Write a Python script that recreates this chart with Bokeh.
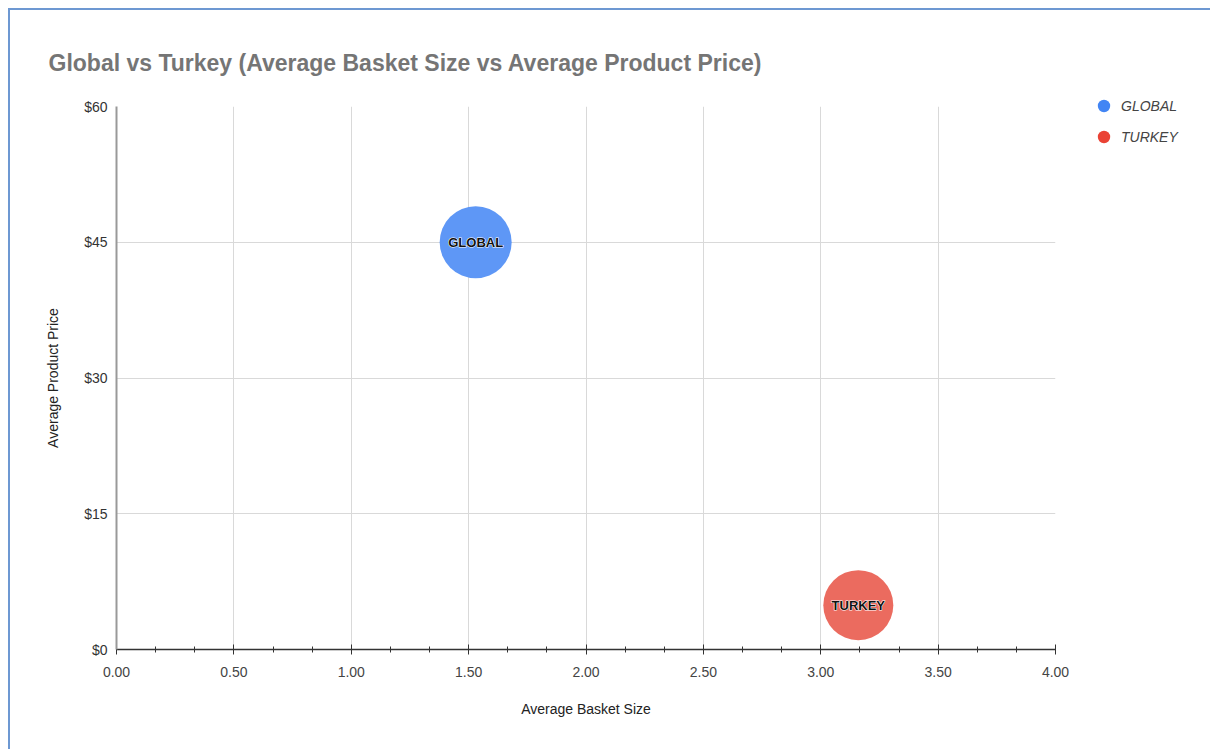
import math
from bokeh.plotting import figure
from bokeh.models import (Range1d, FixedTicker, NumeralTickFormatter, Legend, LegendItem,
                          ColumnDataSource)
from bokeh.core.properties import value
from bokeh.embed import file_html
from bokeh.resources import INLINE

# ---- data ----
labels = ["GLOBAL", "TURKEY"]
basket_size = [1.53, 3.16]
product_price = [45.0, 4.9]
x_ticks = [0.0, 0.5, 1.0, 1.5, 2.0, 2.5, 3.0, 3.5, 4.0]
y_ticks = [0, 15, 30, 45, 60]
x_minor = [i / 6 for i in range(0, 25)]

FONT = "Liberation Sans"
bubble_fill = ["#5e97f6", "#eb6b5f"]
legend_fill = ["#4285f4", "#ea4335"]
diam = [72, 70]

src = ColumnDataSource(dict(x=basket_size, y=product_price, label=labels,
                            fill=bubble_fill, d=diam))

p = figure(frame_width=939, frame_height=543, output_backend="svg", toolbar_location=None,
           x_range=Range1d(0, 4), y_range=Range1d(0, 60),
           min_border_left=106, min_border_top=96, min_border_right=145,
           min_border_bottom=100, margin=(8, 0, 0, 8),
           styles={"border-left": "2px solid #6d98d2", "border-top": "2px solid #6d98d2"})
p.outline_line_color = None

p.title.text = "Global vs Turkey (Average Basket Size vs Average Product Price)"
p.title.text_font = FONT
p.title.text_font_size = "23px"
p.title.text_font_style = "bold"
p.title.text_color = "#757575"
p.title.align = "left"
p.title.offset = -68
p.title.standoff = 61

# bubbles
p.scatter(x="x", y="y", size="d", fill_color="fill", line_color=None, source=src)
for col, outline in (("white", "white"), ("#111111", None)):
    p.text(x="x", y="y", text="label", source=src, text_align="center",
           text_baseline="middle", text_font=value(FONT), text_font_style="bold",
           text_font_size="13px", text_color=col, text_outline_color=outline)

# legend
items = []
for lab, col in zip(labels, legend_fill):
    r = p.scatter(x=[math.nan], y=[math.nan], size=14, fill_color=col, line_color=None)
    items.append(LegendItem(label=lab, renderers=[r]))
leg = Legend(items=items, location=(31, 497), border_line_color=None,
             background_fill_alpha=0, glyph_width=35, glyph_height=31, spacing=0,
             label_height=31,
             label_text_font=FONT, label_text_font_style="italic",
             label_text_font_size="14px", label_text_color="#444444",
             padding=0, margin=0, label_standoff=0)
p.add_layout(leg, "right")

# axes
xa = p.xaxis[0]
xa.ticker = FixedTicker(ticks=x_ticks, minor_ticks=x_minor)
xa.formatter = NumeralTickFormatter(format="0.00")
xa.axis_line_color = "#333333"
xa.axis_line_width = 1.5
xa.major_tick_line_color = "#333333"
xa.major_tick_in = 5
xa.major_tick_out = 5
xa.minor_tick_line_color = "#333333"
xa.minor_tick_in = 3
xa.minor_tick_out = 3
xa.major_label_text_font = FONT
xa.major_label_text_font_size = "14px"
xa.major_label_text_color = "#444444"
xa.major_label_standoff = 12
xa.axis_label = "Average Basket Size"
xa.axis_label_text_font = FONT
xa.axis_label_text_font_size = "14px"
xa.axis_label_text_font_style = "normal"
xa.axis_label_text_color = "#222222"
xa.axis_label_standoff = 21

ya = p.yaxis[0]
ya.ticker = FixedTicker(ticks=y_ticks)
ya.formatter = NumeralTickFormatter(format="$0")
ya.axis_line_color = "#999999"
ya.axis_line_width = 2
ya.major_tick_line_color = None
ya.minor_tick_line_color = None
ya.major_label_text_font = FONT
ya.major_label_text_font_size = "14px"
ya.major_label_text_color = "#333333"
ya.major_label_standoff = 3
ya.axis_label = "Average Product Price"
ya.axis_label_text_font = FONT
ya.axis_label_text_font_size = "14px"
ya.axis_label_text_font_style = "normal"
ya.axis_label_text_color = "#222222"
ya.axis_label_standoff = 20

p.xgrid.grid_line_color = "#d9d9d9"
p.ygrid.grid_line_color = "#d9d9d9"

open("out.html", "w").write(file_html(p, INLINE))
